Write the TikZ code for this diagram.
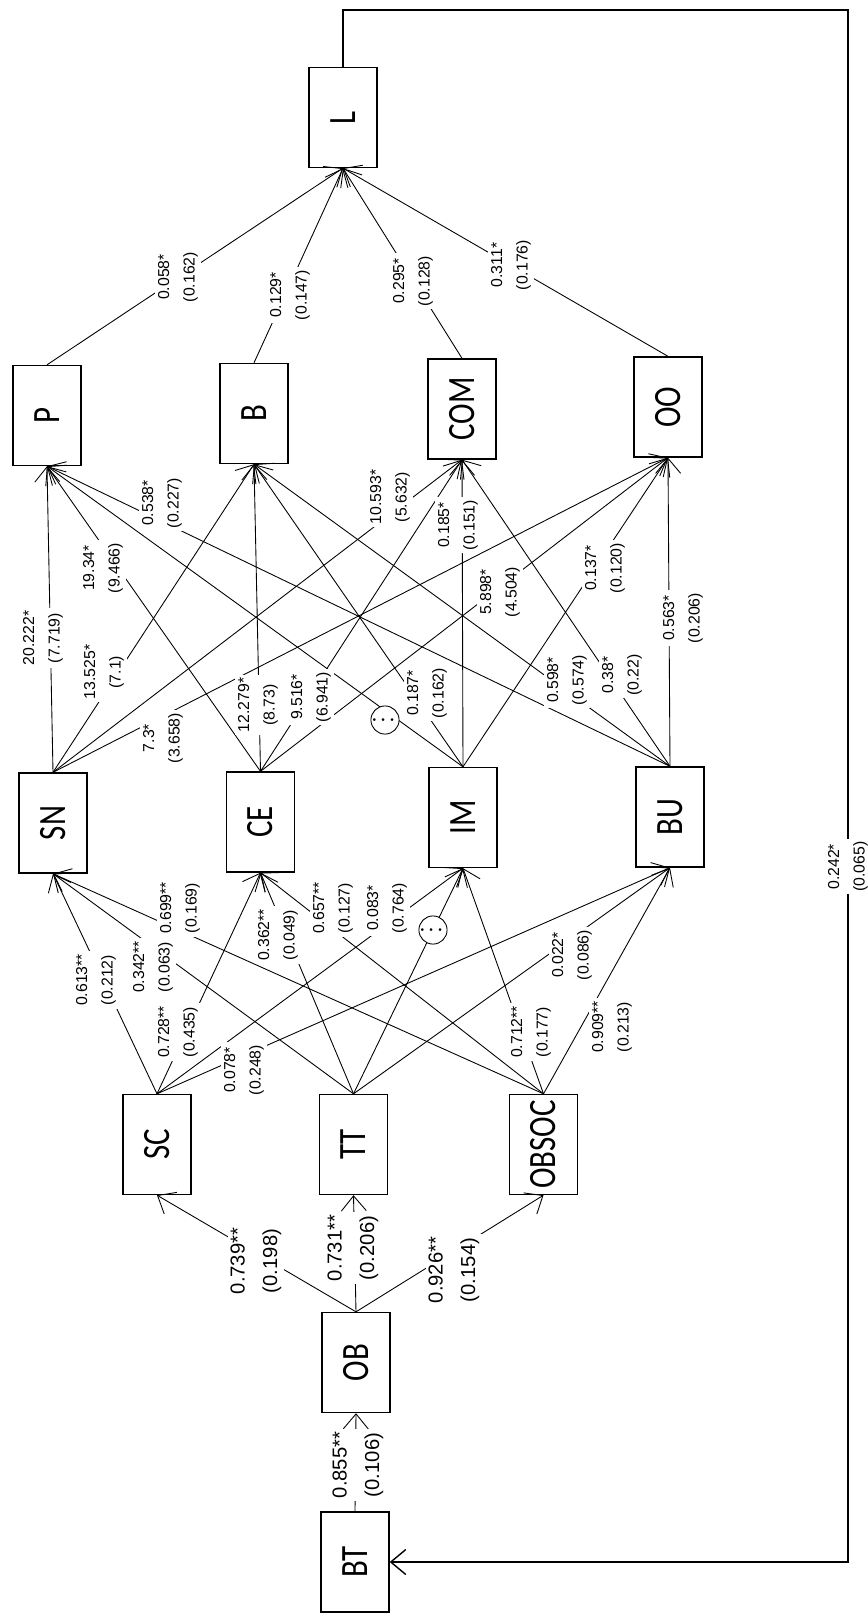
\documentclass[tikz,border=0pt]{standalone}
\usepackage{amsmath}
\usepackage{fontspec}
\usetikzlibrary{arrows.meta}
\newfontfamily\boxfont[FakeStretch=0.8]{Carlito}
\newfontfamily\numfont{Liberation Sans}
\newcommand{\vtext}[1]{\rotatebox{90}{#1}}
% 路径: 起点/终点/标签x/标签y/系数/标准误
\newcommand{\pathsmall}{p/l/178/277/0.058*/0.162, b/l/290/295/0.129*/0.147, com/l/413/281/0.295*/0.128, oo/l/511/265/0.311*/0.176,
  sn/p/43/638/20.222*/7.719, sn/b/104/672/13.525*/7.1, sn/com/390/497/10.593*/5.632, sn/oo/163/738/7.3*/3.658,
  ce/p/103/568/19.34*/9.466, ce/b/258/705/12.279*/8.73, ce/com/311/697/9.516*/6.941, ce/oo/500/592/5.898*/4.504,
  im/b/427/693/0.187*/0.162, im/com/458/525/0.185*/0.151, im/oo/605/568/0.137*/0.120,
  bu/p/162/503/0.538*/0.227, bu/b/567/680/0.598*/0.574, bu/com/622/675/0.38*/0.22, bu/oo/683/618/0.563*/0.206,
  sc/sn/96/980/0.613**/0.212, sc/ce/178/1032/0.728**/0.435, sc/im/387/908/0.083*/0.764, sc/bu/244/1070/0.078*/0.248,
  tt/sn/153/967/0.342**/0.063, tt/ce/278/935/0.362**/0.049, tt/bu/572/955/0.022*/0.086,
  obsoc/sn/180/908/0.699**/0.169, obsoc/ce/333/908/0.657**/0.127, obsoc/im/531/1032/0.712**/0.177, obsoc/bu/612/1027/0.909**/0.213}
\newcommand{\pathbig}{bt/ob/358/1465/0.855**/0.106, ob/sc/256/1261/0.739**/0.198, ob/tt/353/1248/0.731**/0.206, ob/obsoc/454/1270/0.926**/0.154}
\tikzset{
  varbox/.style  = {rectangle, draw, line width=0.8pt, fill=white, minimum width=1.36cm, minimum height=2cm, inner sep=0pt, font=\boxfont\fontsize{22}{22}\selectfont},
  flow/.style    = {-{Straight Barb[length=3mm, width=5mm]}, line width=0.5pt},
  coef/.style    = {rotate=90, fill=white, inner sep=1.5pt, align=center, font=\numfont\fontsize{9}{14.5}\selectfont},
  coefbig/.style = {coef, font=\numfont\fontsize{11.5}{18.5}\selectfont},
  omit/.style    = {circle, draw, line width=0.5pt, fill=white, minimum size=0.46cm, inner sep=0pt, font=\normalsize},
}

\begin{document}
\begin{tikzpicture}[x=0.02cm, y=-0.02cm]
\useasboundingbox (0,0) rectangle (867,1613);

% ===================== 变量 =====================
\node[varbox] (bt)    at (355,   1562)   {\vtext{BT}};
\node[varbox] (ob)    at (356,   1362.5) {\vtext{OB}};

\node[varbox] (sc)    at (157,   1144.5) {\vtext{SC}};
\node[varbox] (tt)    at (353.5, 1144.5) {\vtext{TT}};
\node[varbox] (obsoc) at (543.5, 1144.5) {\vtext{OBSOC}};

\node[varbox] (sn)    at (53,    823)    {\vtext{SN}};
\node[varbox] (ce)    at (260.5, 822)    {\vtext{CE}};
\node[varbox] (im)    at (463,   817.5)  {\vtext{IM}};
\node[varbox] (bu)    at (670,   817)    {\vtext{BU}};

\node[varbox] (p)     at (47,    415.5)  {\vtext{P}};
\node[varbox] (b)     at (254,   413.5)  {\vtext{B}};
\node[varbox] (com)   at (462,   409)    {\vtext{COM}};
\node[varbox] (oo)    at (668,   407)    {\vtext{OO}};

\node[varbox] (l)     at (343,   117.5)  {\vtext{L}};

% ===================== 路径 =====================
\foreach \s/\t/\lx/\ly/\a/\b in \pathsmall {
    \draw[flow] (\s.north) -- (\t.south);
}
\foreach \s/\t/\lx/\ly/\a/\b in \pathbig {
    \draw[flow] (\s.north) -- (\t.south);
}
\draw[flow] (im.north) -- (p.south);
\draw[flow] (tt.north) -- (im.south);

% 反馈路径 L -> BT
\coordinate (loop) at (848, 10);
\draw[flow, line width=0.8pt] (l.north) |- (loop) |- node[coef, pos=0.276] {0.242*\\(0.065)} (bt.east);

% ===================== 系数 =====================
\foreach \s/\t/\lx/\ly/\a/\b in \pathsmall {
    \node[coef] (c-\s-\t) at (\lx, \ly) {\a\\(\b)};
}
\foreach \s/\t/\lx/\ly/\a/\b in \pathbig {
    \node[coefbig] (c-\s-\t) at (\lx, \ly) {\a\\(\b)};
}
\node[omit] (c-im-p) at (385, 720) {$\boldsymbol{\cdots}$};
\node[omit] (c-tt-im) at (433, 930) {$\boldsymbol{\cdots}$};

\end{tikzpicture}
\end{document}
